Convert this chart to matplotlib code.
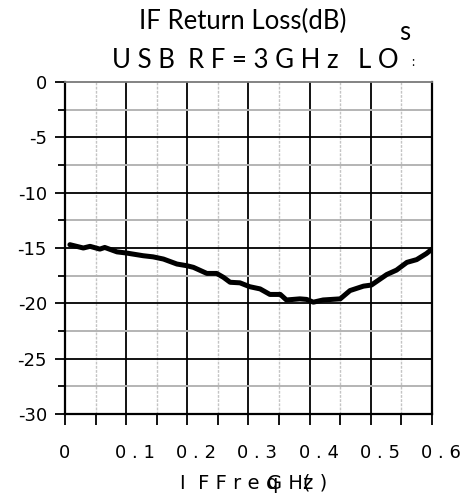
import numpy as np
import matplotlib
matplotlib.use("Agg")
import matplotlib.pyplot as plt
from matplotlib.ticker import MultipleLocator
from matplotlib.transforms import ScaledTranslation

plt.rcParams["axes.unicode_minus"] = False

# IF return loss vs IF frequency (USB, RF = 3 GHz)
freq_ghz = [0.008, 0.03, 0.041, 0.057, 0.065, 0.085, 0.10, 0.128, 0.144, 0.161,
            0.183, 0.199, 0.21, 0.232, 0.248, 0.259, 0.27, 0.286, 0.302, 0.319,
            0.335, 0.352, 0.362, 0.384, 0.395, 0.406, 0.422, 0.45, 0.466, 0.488,
            0.501, 0.526, 0.542, 0.559, 0.575, 0.591, 0.60]
return_loss = [-14.7, -15.0, -14.85, -15.1, -14.95, -15.35, -15.45, -15.7, -15.8, -16.0,
               -16.45, -16.6, -16.75, -17.3, -17.3, -17.65, -18.1, -18.15, -18.5, -18.7,
               -19.2, -19.2, -19.7, -19.6, -19.65, -19.9, -19.7, -19.6, -18.85, -18.45,
               -18.35, -17.4, -17.0, -16.3, -16.05, -15.5, -15.1]

xtick_vals = [0, 0.1, 0.2, 0.3, 0.4, 0.5, 0.6]
xtick_text = ["0", "0 . 1", "0 . 2", "0 . 3", "0 . 4", "0 . 5", "0 . 6"]
ytick_vals = [0, -5, -10, -15, -20, -25, -30]

fig = plt.figure(figsize=(4.72, 4.98), dpi=100)
ax = fig.add_axes([0.1377, 0.169, 0.7775, 0.666])

ax.plot(freq_ghz, return_loss, color="black", lw=3.6, solid_capstyle="round",
        solid_joinstyle="round", zorder=5)

ax.set_xlim(0, 0.6)
ax.set_ylim(-30, 0)
ax.set_xticks(xtick_vals)
ax.set_xticklabels(xtick_text)
ax.xaxis.set_minor_locator(MultipleLocator(0.05))
ax.set_yticks(ytick_vals)
ax.yaxis.set_minor_locator(MultipleLocator(2.5))

ax.grid(which="major", color="black", lw=1.3, zorder=1)
ax.grid(which="minor", axis="y", color="#b4b4b4", lw=1.4, zorder=1)
ax.grid(which="minor", axis="x", color="#c4c4c4", lw=1.0, ls=(0, (2, 1)), zorder=1)
ax.set_axisbelow(True)

for s in ["left", "bottom", "right"]:
    ax.spines[s].set_color("black")
    ax.spines[s].set_linewidth(1.6)
ax.spines["top"].set_color("#7a7a7a")
ax.spines["top"].set_linewidth(1.3)

ax.tick_params(axis="y", which="major", direction="out", length=7, width=1.3,
               labelsize=13, pad=6)
ax.tick_params(axis="y", which="minor", direction="out", length=5, width=1.3)
ax.tick_params(axis="x", which="both", direction="out", length=8, width=1.3,
               labelsize=13, pad=14)

fig.canvas.draw()
for t in ax.yaxis.get_major_ticks():
    if t.get_loc() == 0:
        t.gridline.set_visible(False)
shift = ScaledTranslation(9 / 100, 0, fig.dpi_scale_trans)
for i, lab in enumerate(ax.get_xticklabels()):
    if i > 0:
        lab.set_transform(lab.get_transform() + shift)

# titles
fig.text(0.515, 0.956, "IF Return Loss(dB)", family="Lato", fontsize=18.5,
         ha="center", va="center")
fig.text(0.237, 0.879, "U S B", family="Lato", fontsize=18.5, ha="left", va="center")
fig.text(0.398, 0.879, "R F = 3 G H z", family="Lato", fontsize=18.5, ha="left", va="center")
fig.text(0.758, 0.879, "L O", family="Lato", fontsize=18.5, ha="left", va="center")
fig.text(0.875, 0.875, ":", family="Lato", fontsize=9, ha="center", va="center")
fig.text(0.858, 0.934, "s", family="Lato", fontsize=18.5, ha="center", va="center")

# axis label
fig.text(0.381, 0.03, "I  F F r e", fontsize=14, ha="left", va="center")
fig.text(0.563, 0.03, "q", fontsize=14, ha="left", va="center")
fig.text(0.566, 0.03, "G H(", fontsize=14, ha="left", va="center")
fig.text(0.642, 0.03, "z )", fontsize=14, ha="left", va="center")

fig.savefig("out.png", dpi=100)
